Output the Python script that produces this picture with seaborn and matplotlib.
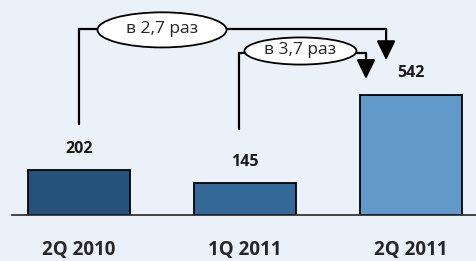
import numpy as np
import matplotlib.pyplot as plt
import pandas as pd
import seaborn as sns
from matplotlib.patches import Ellipse

# data
periods = ['2Q 2010', '1Q 2011', '2Q 2011']
values = [202, 145, 542]
bar_colors = ['#24527A', '#346899', '#6199CB']
growth_labels = ['в 2,7 раз', 'в 3,7 раз']

df = pd.DataFrame({'period': periods, 'value': values})

bg = '#EAF1F8'
sns.set_style('white')
plt.rcParams['font.family'] = ['Open Sans', 'DejaVu Sans']

fig = plt.figure(figsize=(4.76, 2.61), dpi=100, facecolor=bg)
ax = fig.add_axes([12 / 476, 46 / 261, 464 / 476, 215 / 261])
ax.set_facecolor(bg)

sns.barplot(data=df, x='period', y='value', hue='period', palette=bar_colors,
            legend=False, width=0.614, edgecolor='black', linewidth=1.3,
            saturation=1, ax=ax)

ax.set_xlim(-0.4036, 2.3916)
ax.set_ylim(0, 967.5)

for s in ['top', 'right', 'left']:
    ax.spines[s].set_visible(False)
ax.spines['bottom'].set_linewidth(1.2)
ax.set_yticks([])
ax.set_xlabel('')
ax.set_ylabel('')
ax.tick_params(axis='x', length=0, pad=18)
for lbl in ax.get_xticklabels():
    lbl.set_fontsize(13.5)
    lbl.set_fontweight('bold')

# value labels
for i, v in enumerate(values):
    ax.text(i, v + 95, str(v), ha='center', va='center', fontsize=11.5,
            fontweight='bold', color='#1a1a1a')

# connectors: 2Q 2010 -> 2Q 2011
lw = 1.6
ax.plot([0, 0, 1.85], [410, 837, 837], color='black', lw=lw,
        solid_joinstyle='miter')
ax.annotate('', xy=(1.85, 697), xytext=(1.85, 837),
            arrowprops=dict(arrowstyle='-|>,head_length=0.45,head_width=0.22',
                            mutation_scale=26, color='black', lw=lw,
                            shrinkA=0, shrinkB=0))
ax.add_patch(Ellipse((0.5, 833), 0.777, 158, facecolor='white',
                     edgecolor='black', lw=1.3, zorder=5))
ax.text(0.5, 837, growth_labels[0], ha='center', va='center', fontsize=12.5,
        zorder=6)

# connectors: 1Q 2011 -> 2Q 2011
ax.plot([0.964, 0.964, 1.729], [387, 729, 729], color='black', lw=lw,
        solid_joinstyle='miter')
ax.annotate('', xy=(1.729, 612), xytext=(1.729, 729),
            arrowprops=dict(arrowstyle='-|>,head_length=0.45,head_width=0.22',
                            mutation_scale=26, color='black', lw=lw,
                            shrinkA=0, shrinkB=0))
ax.add_patch(Ellipse((1.334, 738), 0.675, 122, facecolor='white',
                     edgecolor='black', lw=1.3, zorder=5))
ax.text(1.334, 742, growth_labels[1], ha='center', va='center', fontsize=12.5,
        zorder=6)

plt.savefig('out.png', dpi=100, facecolor=bg)
